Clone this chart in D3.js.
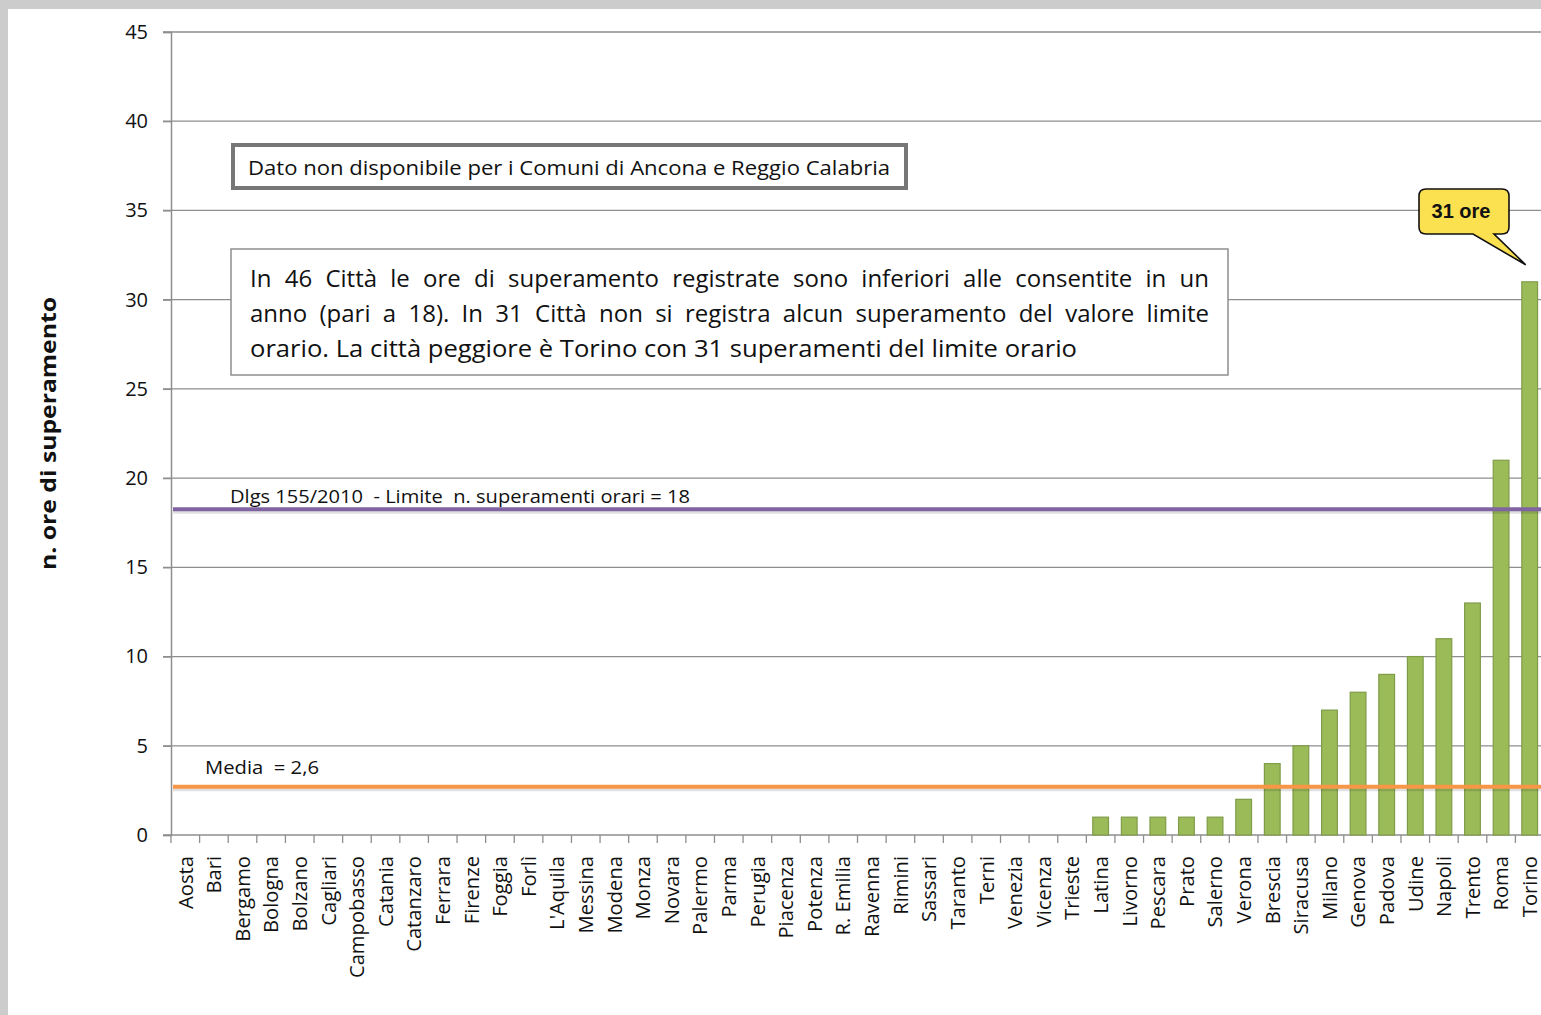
<!DOCTYPE html>
<html lang="it">
<head>
<meta charset="UTF-8" />
<title>Ore di superamento</title>
<style>
  body { margin: 0; background: #fff; }
  svg { display: block; font-family: "Open Sans", sans-serif; }
</style>
<script src="https://d3js.org/d3.v7.min.js"></script>
</head>
<body>
<div id="chart"></div>
<script>
// cities and number of hours above the hourly limit
const cities = ["Aosta", "Bari", "Bergamo", "Bologna", "Bolzano", "Cagliari", "Campobasso", "Catania",
  "Catanzaro", "Ferrara", "Firenze", "Foggia", "Forlì", "L'Aquila", "Messina", "Modena", "Monza",
  "Novara", "Palermo", "Parma", "Perugia", "Piacenza", "Potenza", "R. Emilia", "Ravenna", "Rimini",
  "Sassari", "Taranto", "Terni", "Venezia", "Vicenza", "Trieste", "Latina", "Livorno", "Pescara",
  "Prato", "Salerno", "Verona", "Brescia", "Siracusa", "Milano", "Genova", "Padova", "Udine",
  "Napoli", "Trento", "Roma", "Torino"];
const hours = [0, 0, 0, 0, 0, 0, 0, 0, 0, 0, 0, 0, 0, 0, 0, 0, 0, 0, 0, 0, 0, 0, 0, 0, 0, 0, 0, 0, 0, 0, 0, 0,
  1, 1, 1, 1, 1, 2, 4, 5, 7, 8, 9, 10, 11, 13, 21, 31];
const yTicks = [0, 5, 10, 15, 20, 25, 30, 35, 40, 45];
const limitValue = 18.25;
const meanValue = 2.7;
const limitLabel = "Dlgs 155/2010  - Limite  n. superamenti orari = 18";
const meanLabel = "Media  = 2,6";
const noteTop = "Dato non disponibile per i Comuni di Ancona e Reggio Calabria";
const noteLines = [
  "In 46 Città le ore di superamento registrate sono inferiori alle consentite in un",
  "anno (pari a 18). In 31 Città non si registra alcun superamento del valore limite",
  "orario. La città peggiore è Torino con 31 superamenti del limite orario"
];
const calloutText = "31 ore";

const width = 1541, height = 1015;
const margin = { top: 32, right: -3, bottom: 180, left: 171 };

const svg = d3.select("#chart").append("svg")
  .attr("width", width)
  .attr("height", height);

// gray frame on left / top
svg.append("rect").attr("x", 0).attr("y", 0).attr("width", width).attr("height", height).attr("fill", "#cccccc");
svg.append("rect").attr("x", 8).attr("y", 9).attr("width", width).attr("height", height).attr("fill", "#ffffff");

const x = d3.scaleBand()
  .domain(cities)
  .range([margin.left, width - margin.right])
  .paddingInner(0.45)
  .paddingOuter(0.225);

const y = d3.scaleLinear()
  .domain([0, 45])
  .range([height - margin.bottom, margin.top]);

// gridlines
svg.append("g")
  .selectAll("line")
  .data(yTicks.filter(d => d > 0))
  .enter().append("line")
  .attr("x1", margin.left - 8)
  .attr("x2", width)
  .attr("y1", d => y(d))
  .attr("y2", d => y(d))
  .attr("stroke", "#8e8e8e")
  .attr("stroke-width", 1.3);

// y axis
const yAxis = svg.append("g")
  .attr("transform", `translate(${margin.left},0)`)
  .call(d3.axisLeft(y).tickValues(yTicks).tickSize(8).tickPadding(15));
yAxis.select(".domain").attr("stroke", "#8e8e8e").attr("stroke-width", 1.5);
yAxis.selectAll(".tick line").attr("stroke", "#8e8e8e").attr("stroke-width", 1.3);
yAxis.selectAll(".tick text").attr("font-size", 20).attr("fill", "#111").attr("font-family", "'Open Sans', sans-serif");

// x axis baseline and ticks at category boundaries
const step = x.step();
const gap = (step - x.bandwidth()) / 2;
svg.append("line")
  .attr("x1", margin.left - 8).attr("x2", width)
  .attr("y1", y(0)).attr("y2", y(0))
  .attr("stroke", "#8e8e8e").attr("stroke-width", 1.5);
svg.append("g")
  .selectAll("line")
  .data(cities)
  .enter().append("line")
  .attr("x1", d => x(d) - gap)
  .attr("x2", d => x(d) - gap)
  .attr("y1", y(0))
  .attr("y2", y(0) + 8)
  .attr("stroke", "#8e8e8e")
  .attr("stroke-width", 1.3);

// x labels
svg.append("g")
  .selectAll("text")
  .data(cities)
  .enter().append("text")
  .attr("transform", d => `translate(${x(d) + x.bandwidth() / 2},${y(0) + 21}) rotate(-90)`)
  .attr("dy", "0.36em")
  .attr("text-anchor", "end")
  .attr("font-size", 20.2)
  .attr("fill", "#111")
  .text(d => d);

// bars
svg.append("g")
  .selectAll("rect")
  .data(cities.map((c, i) => ({ city: c, value: hours[i] })).filter(d => d.value > 0))
  .enter().append("rect")
  .attr("x", d => x(d.city))
  .attr("y", d => y(d.value))
  .attr("width", x.bandwidth())
  .attr("height", d => y(0) - y(d.value))
  .attr("fill", "#9bbb59")
  .attr("stroke", "#7f9c48")
  .attr("stroke-width", 1.2);

// reference lines (with soft shadow)
function refLine(v, color) {
  svg.append("line")
    .attr("x1", margin.left + 2).attr("x2", width)
    .attr("y1", y(v) + 3).attr("y2", y(v) + 3)
    .attr("stroke", "#000").attr("stroke-opacity", 0.12).attr("stroke-width", 3);
  svg.append("line")
    .attr("x1", margin.left + 2).attr("x2", width)
    .attr("y1", y(v)).attr("y2", y(v))
    .attr("stroke", color).attr("stroke-width", 4);
}
refLine(limitValue, "#8064a2");
refLine(meanValue, "#f79646");

svg.append("text")
  .attr("x", 230).attr("y", y(limitValue) - 6)
  .attr("font-size", 19).attr("fill", "#111")
  .attr("textLength", 460).attr("lengthAdjust", "spacingAndGlyphs")
  .style("white-space", "pre")
  .text(limitLabel);
svg.append("text")
  .attr("x", 205).attr("y", y(meanValue) - 13)
  .attr("font-size", 19).attr("fill", "#111")
  .attr("textLength", 114).attr("lengthAdjust", "spacingAndGlyphs")
  .style("white-space", "pre")
  .text(meanLabel);

// top note box
svg.append("rect")
  .attr("x", 233).attr("y", 145).attr("width", 673).attr("height", 43)
  .attr("fill", "#fff").attr("stroke", "#777").attr("stroke-width", 4);
svg.append("text")
  .attr("x", 248).attr("y", 175)
  .attr("font-size", 20).attr("fill", "#111")
  .attr("textLength", 642).attr("lengthAdjust", "spacingAndGlyphs")
  .text(noteTop);

// main note box
svg.append("rect")
  .attr("x", 231).attr("y", 249).attr("width", 997).attr("height", 126)
  .attr("fill", "#fff").attr("stroke", "#8e8e8e").attr("stroke-width", 1.5);
noteLines.forEach((line, i) => {
  const t = svg.append("text")
    .attr("x", 250).attr("y", 287 + i * 35)
    .attr("font-size", 24).attr("fill", "#111")
    .text(line);
  if (i < noteLines.length - 1) {
    // justify by word spacing
    const natural = t.node().getComputedTextLength();
    const spaces = line.split(" ").length - 1;
    t.attr("word-spacing", (959 - natural) / spaces);
  } else {
    t.attr("textLength", 827).attr("lengthAdjust", "spacingAndGlyphs");
  }
});

// callout for Torino
const tx = x("Torino") + x.bandwidth() / 2 - 4;
const ty = y(31) - 17;
const cx0 = 1419, cy0 = 189, cw = 90, ch = 45, r = 7;
const callout = d3.path();
callout.moveTo(cx0 + r, cy0);
callout.lineTo(cx0 + cw - r, cy0);
callout.quadraticCurveTo(cx0 + cw, cy0, cx0 + cw, cy0 + r);
callout.lineTo(cx0 + cw, cy0 + ch - r);
callout.quadraticCurveTo(cx0 + cw, cy0 + ch, cx0 + cw - r, cy0 + ch);
callout.lineTo(cx0 + 75, cy0 + ch);
callout.lineTo(tx, ty);
callout.lineTo(cx0 + 54, cy0 + ch);
callout.lineTo(cx0 + r, cy0 + ch);
callout.quadraticCurveTo(cx0, cy0 + ch, cx0, cy0 + ch - r);
callout.lineTo(cx0, cy0 + r);
callout.quadraticCurveTo(cx0, cy0, cx0 + r, cy0);
callout.closePath();
svg.append("path")
  .attr("d", callout.toString())
  .attr("fill", "#fbe04f")
  .attr("stroke", "#111")
  .attr("stroke-width", 1.6);
svg.append("text")
  .attr("x", cx0 + cw / 2 - 3).attr("y", cy0 + 29)
  .attr("text-anchor", "middle")
  .attr("font-family", "'Liberation Sans', Arial, sans-serif")
  .attr("font-weight", "bold")
  .attr("font-size", 20)
  .attr("fill", "#111")
  .text(calloutText);

// y axis title
svg.append("text")
  .attr("transform", `translate(56,${(y(0) + y(45)) / 2}) rotate(-90)`)
  .attr("text-anchor", "middle")
  .attr("font-size", 22)
  .attr("font-weight", "bold")
  .attr("fill", "#111")
  .attr("textLength", 273).attr("lengthAdjust", "spacingAndGlyphs")
  .text("n. ore di superamento");
</script>
</body>
</html>
